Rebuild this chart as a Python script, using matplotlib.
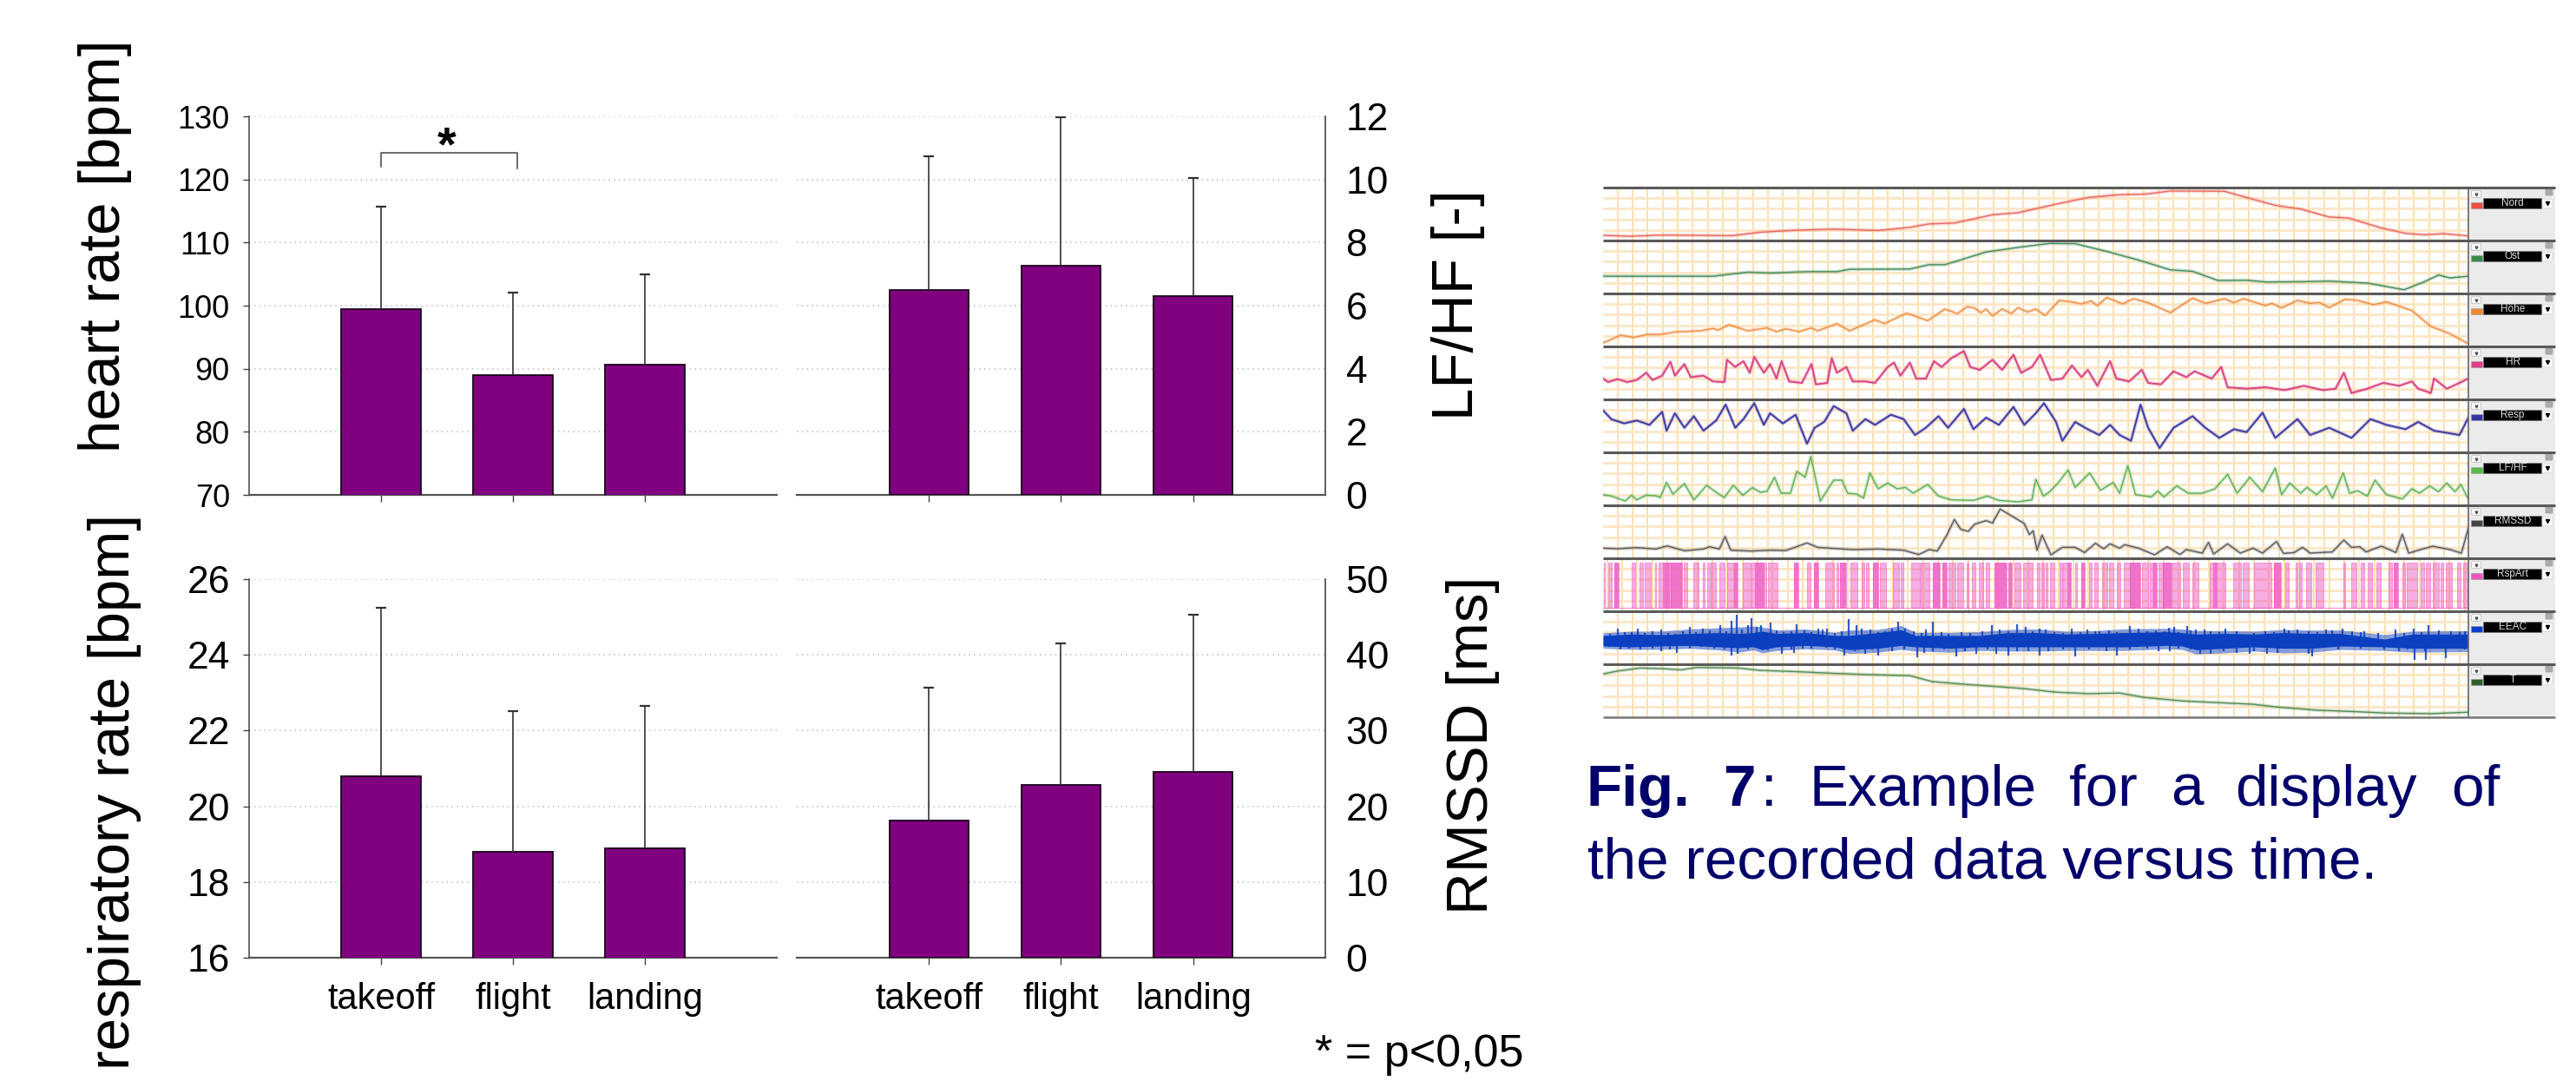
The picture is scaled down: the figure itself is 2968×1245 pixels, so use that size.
import numpy as np
import matplotlib
matplotlib.use("Agg")
import matplotlib.pyplot as plt
from matplotlib.patches import Rectangle, FancyBboxPatch

W = 2968
H = 1245
plt.rcParams['font.family'] = ['Liberation Sans', 'DejaVu Sans']

# bar charts
phases = ["takeoff", "flight", "landing"]
hr_mean = [99.5, 89.0, 90.6]
hr_top = [115.75, 102.0, 104.9]
lfhf_mean = [6.49, 7.26, 6.31]
lfhf_top = [10.74, 11.97, 10.05]
resp_mean = [20.79, 18.79, 18.88]
resp_top = [25.24, 22.52, 22.64]
rmssd_mean = [18.17, 22.87, 24.5]
rmssd_top = [35.66, 41.55, 45.3]
hr_ticks = [70, 80, 90, 100, 110, 120, 130]
lfhf_ticks = [0, 2, 4, 6, 8, 10, 12]
resp_ticks = [16, 18, 20, 22, 24, 26]
rmssd_ticks = [0, 10, 20, 30, 40, 50]

# recorded traces (time, level)
nord_t = [37,80,130,190,240,285,340,400,470,520,550,590,650,690,750,800,850,890,930,1015,1060,1095,1135,1180,1210,1260,1300,1330,1360,1399]
nord_y = [214,217,213,214,215,203,196,192,197,186,174,171,142,135,105,82,72,70,59,60,88,109,122,150,153,187,207,212,208,216]
ost_t = [37,120,210,265,300,360,405,425,520,550,575,640,690,740,780,830,880,930,965,1005,1050,1080,1140,1180,1240,1298,1330,1352,1370,1399]
ost_y = [356,356,356,342,345,340,340,332,331,316,316,272,256,242,243,270,300,334,339,371,370,376,375,373,380,403,375,352,362,356]
hoehe_t = [37,65,85,105,130,150,190,210,218,235,265,280,295,310,325,345,365,375,405,425,465,480,515,548,575,595,610,620,632,640,650,665,680,690,705,718,733,755,775,790,805,815,830,855,872,895,930,965,985,1015,1030,1045,1080,1090,1105,1130,1150,1165,1180,1205,1225,1250,1270,1290,1310,1340,1370,1399]
hoehe_y = [587,560,568,558,557,549,545,537,543,524,545,540,535,548,538,548,535,545,520,545,507,520,484,510,470,485,462,465,482,470,493,470,485,465,480,470,492,440,445,452,442,458,430,452,434,448,482,432,450,434,448,434,458,450,466,440,450,447,465,436,440,455,445,460,475,530,555,590]
hr_t = [37,45,60,75,90,105,115,130,143,150,165,175,195,210,228,232,245,258,268,275,290,300,310,318,330,350,365,372,390,397,405,420,430,450,465,485,495,505,520,530,545,558,570,585,605,615,630,650,665,683,695,712,725,742,760,775,790,800,815,835,845,865,885,895,915,935,955,968,995,1010,1020,1050,1080,1110,1140,1170,1190,1203,1215,1240,1265,1290,1310,1320,1340,1345,1365,1385,1399]
hr_y = [710,722,712,722,715,690,715,700,652,700,660,705,700,720,722,645,670,650,690,635,690,660,710,650,720,725,660,730,725,640,690,670,720,720,725,670,655,700,655,710,710,650,670,640,615,670,680,645,680,628,690,670,628,715,710,665,705,680,735,650,710,720,680,725,730,685,705,685,710,670,740,745,740,750,735,750,745,690,760,745,725,735,720,745,760,710,745,725,710]
rsp_t = [37,50,70,90,110,130,137,150,165,180,195,215,230,245,258,275,290,300,320,340,358,370,385,400,420,430,450,465,490,510,528,545,565,580,605,620,640,660,683,700,718,731,750,760,780,800,818,835,850,868,883,895,913,935,965,985,1007,1030,1050,1075,1095,1130,1150,1180,1215,1245,1270,1300,1320,1345,1385,1399]
rsp_y = [820,850,865,855,870,825,890,830,880,840,890,855,800,880,850,795,870,830,865,835,935,880,860,805,830,890,850,870,835,850,905,880,840,880,815,885,845,870,808,870,830,795,860,925,860,885,905,870,905,925,800,880,950,880,840,880,915,885,895,828,915,850,905,880,915,850,870,885,860,890,905,845]
lf_t = [37,50,72,82,90,105,120,127,137,147,165,180,200,215,228,242,257,272,285,295,307,317,332,342,355,364,379,400,413,422,436,447,457,470,485,500,513,525,548,565,585,620,642,660,690,712,718,730,740,755,769,780,803,820,840,850,863,875,900,910,920,940,958,980,1000,1020,1035,1055,1075,1095,1105,1118,1135,1145,1160,1175,1185,1202,1212,1225,1240,1252,1270,1295,1310,1322,1338,1352,1365,1378,1387,1399]
lf_y = [210,215,232,212,228,212,214,220,168,208,172,228,178,202,220,178,212,186,202,198,150,205,205,130,150,78,232,160,160,205,208,222,135,190,170,190,185,205,175,215,228,230,215,230,235,228,157,215,200,165,125,185,135,195,168,205,110,210,218,197,218,180,205,205,190,140,205,150,200,118,210,170,205,185,210,180,222,135,205,197,215,160,210,225,190,205,180,200,170,200,175,225]
rm_t = [37,60,90,120,138,165,195,205,220,229,238,270,300,325,358,375,400,430,470,510,534,550,563,578,590,600,612,622,640,650,662,685,700,708,714,720,728,742,760,780,795,812,825,835,850,858,880,905,925,945,955,980,990,998,1020,1040,1060,1075,1097,1108,1125,1138,1150,1185,1203,1215,1228,1238,1262,1285,1295,1305,1343,1370,1388,1399]
rm_y = [395,397,393,398,387,404,398,390,398,355,402,405,402,403,377,392,396,400,398,402,417,400,405,350,296,330,337,312,300,308,260,290,310,348,335,402,350,418,392,392,410,378,397,380,395,383,395,418,390,417,400,412,375,415,380,412,395,412,372,413,410,392,412,408,367,392,390,408,388,410,347,412,388,400,412,325]
temp_t = [37,60,95,130,160,185,250,285,340,400,450,520,555,600,650,700,750,800,850,890,950,1000,1060,1100,1160,1220,1270,1340,1399]
temp_y = [830,820,810,812,816,808,810,818,822,828,832,836,856,864,872,880,892,897,895,910,922,927,933,943,953,958,963,965,960]

# respiration artefact flag, on-intervals and the dense parts of them
art_start = [8,25,45,105,133,150,185,197,240,285,318,350,367,382,408,435,460,490,520,575,667,710,735,775,812,826,860,900,915,940,963,1008,1035,1070,1105,1147,1180,1200,1230,1262,1280,1305,1328,1360,1408,1428,1458,1505,1520,1535,1552,1585,1597,1637,1658,1685,1705,1730,1755,1782,1805,1828,1868,1895,1908,1925,1942,1975,2010,2042,2103,2185,2218,2255,2325,2365,2400,2412,2435,2470,2565,2592,2625,2648,2678,2722,2738,2770,2785,2832,2850,2875,2900,2918,2958,2980]
art_end = [12,35,60,118,143,170,190,240,280,297,335,358,377,395,425,455,472,515,570,610,682,722,750,803,820,846,885,908,923,958,985,1030,1045,1100,1135,1170,1195,1225,1252,1270,1292,1320,1342,1400,1420,1450,1490,1515,1530,1542,1565,1592,1622,1645,1672,1695,1716,1748,1770,1795,1826,1862,1890,1905,1920,1940,1970,2000,2030,2065,2158,2212,2238,2315,2350,2375,2405,2420,2455,2495,2572,2610,2638,2665,2695,2732,2755,2778,2820,2845,2865,2895,2910,2940,2970,2998]
dense_start = [45,212,240,460,530,667,735,826,940,1147,1180,1360,1408,1610,1658,1828,1908,1942,2115,2325,2738]
dense_end = [60,238,280,472,565,682,750,846,958,1170,1195,1400,1420,1622,1672,1862,1920,1970,2130,2350,2755]
art_low = 0.07
art_high = 0.92

# EEAC: solid core, fuzz around it and the spikes above and below
eeac_core_t = [0,100,200,300,400,470,520,550,600,700,800,850,950,1030,1080,1200,1300,1400,1500,1600,1700,1800,1950,2000,2050,2150,2250,2350,2450,2550,2700,2800,2991]
eeac_core_hi = [85,80,82,78,75,78,75,70,78,75,85,85,75,65,85,85,85,75,75,80,78,75,72,75,80,78,80,75,78,78,98,80,80]
eeac_core_lo = [122,125,122,120,125,128,125,135,125,120,125,135,130,120,125,130,125,125,125,125,125,125,120,122,135,130,125,130,130,122,125,130,130]
eeac_fuzz_hi = [76,70,70,62,58,55,52,55,66,62,74,66,64,50,74,74,72,64,62,70,68,62,60,62,68,68,70,64,66,66,82,70,68]
eeac_fuzz_lo = [130,134,134,130,136,144,136,146,138,132,136,148,144,134,140,144,138,140,140,138,138,138,132,134,150,146,140,146,144,134,138,144,142]
eeac_up_t = [50,120,200,300,345,405,445,463,500,512,545,578,670,745,775,850,875,1020,1075,1140,1345,1432,1460,1510,1620,1675,1715,1822,1955,1975,2018,2050,2150,2290,2355,2500,2555,2630,2740,2802,2852,2930,2980,
             25,75,100,145,170,225,250,275,320,370,385,425,480,530,600,625,650,695,720,760,800,825,895,925,950,975,1000,1045,1100,1115,1170,1195,1240,1270,1310,1370,1400,1485,
             1530,1560,1590,1650,1700,1750,1775,1800,1850,1880,1910,1940,1990,2030,2080,2100,2130,2190,2250,2320,2370,2400,2440,2470,2520,2590,2620,2680,2770,2830,2890,2960]
eeac_up = [60,60,65,55,60,50,35,12,50,25,50,40,45,60,60,28,50,38,70,38,50,45,55,60,60,65,70,52,58,55,52,65,60,70,60,65,60,70,65,60,48,70,70,
           80,72,72,75,70,75,78,70,72,68,75,70,65,55,68,72,70,68,72,65,75,70,62,65,72,70,60,60,75,65,72,78,72,75,70,65,70,70,
           65,72,75,72,70,68,72,75,62,70,68,70,72,68,65,70,72,70,75,72,68,65,70,72,68,70,72,75,75,72,68,72]
eeac_dn_t = [60,200,255,385,445,465,545,618,660,720,835,905,950,1085,1140,1220,1290,1360,1402,1470,1510,1632,1775,1958,2065,2145,2235,2295,2450,2750,2805,2845,2912,2980,
             20,90,130,170,230,300,340,420,500,570,650,690,770,800,870,930,1000,1040,1110,1180,1250,1330,1430,
             1540,1590,1680,1740,1820,1880,1920,1990,2030,2100,2190,2250,2330,2380,2440,2540,2620,2700,2780,2840,2920,2990]
eeac_dn = [135,140,145,130,155,150,135,150,145,130,155,150,155,162,140,160,150,150,155,140,155,160,155,140,150,140,150,150,160,140,170,170,165,135,
           125,130,135,130,135,130,125,135,135,138,135,130,128,135,140,135,140,135,145,135,140,135,140,
           140,135,135,140,135,130,140,130,135,148,145,140,145,130,148,135,130,135,135,140,130,132]

# strip scales as read, top and bottom level of each strip
strip_names = ["Nord", "Ost", "Höhe", "HR", "Resp", "LF/HF", "RMSSD", "RspArt", "EEAC", "T"]
strip_colors = ["#e8645a", "#3f8a55", "#f08a3c", "#d8407f", "#3a35a0", "#58b050", "#555555", "#ee5cc4", "#0b3fc0", "#4e8a4e"]
swatch_colors = ["#e8503f", "#3a8a4c", "#f08a30", "#e0408a", "#3535a5", "#58b84a", "#444444", "#ee55c0", "#0b40c8", "#2f5f28"]
strip_tops = [47, 232, 416, 599, 782, 64, 247, 0, 0, 797]
strip_bots = [232, 416, 599, 782, 965, 247, 430, 1, 186, 977]
strip_data = [(nord_t, nord_y), (ost_t, ost_y), (hoehe_t, hoehe_y), (hr_t, hr_y), (rsp_t, rsp_y),
              (lf_t, lf_y), (rm_t, rm_y), None, None, (temp_t, temp_y)]


def add_px_axes(x0, y0, x1, y1):
    return fig.add_axes([x0 / W, 1 - y1 / H, (x1 - x0) / W, (y1 - y0) / H])


def bar_panel(box, means, tops, ticks, side, size, labels=None):
    ax = add_px_axes(*box)
    xs = [1, 2, 3]
    ax.bar(xs, means, width=0.6, color="#800080", edgecolor="#1a001a", linewidth=1.3, zorder=3)
    yerr = [np.zeros(3), np.array(tops) - np.array(means)]
    eb = ax.errorbar(xs, means, yerr=yerr, fmt='none', ecolor="#333333", elinewidth=1.2, capsize=4.5, capthick=1.6, zorder=4)
    eb[1][0].set_visible(False)
    ax.set_xlim(0, 4)
    ax.set_ylim(ticks[0], ticks[-1])
    ax.set_yticks(ticks)
    ax.yaxis.grid(True, linestyle=(0, (1, 2.5)), color="#c6c6c6", linewidth=1.2)
    ax.set_axisbelow(True)
    ax.set_xticks(xs)
    ax.spines['top'].set_visible(False)
    ax.spines['bottom'].set_color("#555555")
    ax.spines['bottom'].set_linewidth(1.6)
    if side == "left":
        ax.spines['right'].set_visible(False)
        ax.spines['left'].set_color("#444444")
        ax.spines['left'].set_linewidth(1.1)
        ax.tick_params(axis='y', labelsize=size, length=5, width=1, color="#444444", pad=11)
    else:
        ax.spines['left'].set_visible(False)
        ax.spines['right'].set_color("#333333")
        ax.spines['right'].set_linewidth(1.1)
        ax.yaxis.tick_right()
        ax.tick_params(axis='y', labelsize=size, length=0, pad=17)
    ax.tick_params(axis='x', length=6, width=1, color="#444444", pad=14, labelsize=30)
    ax.set_xticklabels(labels if labels else [])
    return ax


fig = plt.figure(figsize=(W / 100, H / 100), dpi=100, facecolor="white")

ax_hr = bar_panel((287, 134, 895, 570), hr_mean, hr_top, hr_ticks, "left", 26)
bar_panel((918, 134, 1527, 570), lfhf_mean, lfhf_top, lfhf_ticks, "right", 32)
bar_panel((287, 667, 895, 1103), resp_mean, resp_top, resp_ticks, "left", 32, phases)
bar_panel((918, 667, 1527, 1103), rmssd_mean, rmssd_top, rmssd_ticks, "right", 32, phases)

# significance bracket between takeoff and flight
ax_hr.plot([1.0, 1.0, 2.03, 2.03], [122.0, 124.2, 124.2, 121.7], color="#444444", lw=1.1, zorder=5)
ax_hr.text(1.5, 125.0, "*", fontsize=40, fontweight='bold', ha='center', va='center', color="black")

fig.text(121 / W, 1 - 283 / H, "heart rate [bpm]", rotation=90, fontsize=48.5, ha='center', va='center')
fig.text(132 / W, 1 - 912 / H, "respiratory rate [bpm]", rotation=90, fontsize=48.5, ha='center', va='center')
fig.text(1680 / W, 1 - 351 / H, "LF/HF [-]", rotation=90, fontsize=48.5, ha='center', va='center')
fig.text(1697 / W, 1 - 858 / H, "RMSSD [ms]", rotation=90, fontsize=48.5, ha='center', va='center')
fig.text(1515 / W, 1 - 1228 / H, "* = p<0,05", fontsize=37.5, ha='left', va='baseline')

# screenshot of the recording
strip_y0 = 216
strip_h = 61
for i, name in enumerate(strip_names):
    ax = add_px_axes(1847, strip_y0 + i * strip_h, 2844, strip_y0 + (i + 1) * strip_h)
    ax.set_xlim(37, 1399)
    ax.set_ylim(strip_bots[i], strip_tops[i])
    ax.set_xticks(np.arange(60, 1399, 23.65))
    ax.set_yticks(np.linspace(strip_tops[i], strip_bots[i], 6)[1:-1])
    ax.grid(True, axis='x', color="#fddaa0", linewidth=1.2)
    ax.grid(True, axis='y', color="#fde6c4", linewidth=2)
    ax.set_axisbelow(True)
    ax.tick_params(length=0, labelbottom=False, labelleft=False)
    for s in ax.spines.values():
        s.set_visible(False)
    col = strip_colors[i]
    if name == "RspArt":
        ax.set_xlim(6, 2997)
        ax.set_ylim(0, 1)
        ax.set_xticks(np.arange(20, 2997, 52))
        ax.set_yticks([0.2, 0.4, 0.6, 0.8])
        ax.bar(art_start, art_high - art_low, np.array(art_end) - np.array(art_start), bottom=art_low, align='edge',
               facecolor=col, alpha=0.5, edgecolor=col, linewidth=0.8)
        ax.bar(dense_start, art_high - art_low, np.array(dense_end) - np.array(dense_start), bottom=art_low, align='edge',
               facecolor=col, alpha=0.7, linewidth=0)
        ax.axhline(art_low, color=col, lw=1, alpha=0.6)
    elif name == "EEAC":
        ax.set_xlim(0, 2991)
        ax.set_xticks(np.arange(50, 2991, 52))
        ax.fill_between(eeac_core_t, eeac_fuzz_lo, eeac_fuzz_hi, color=col, alpha=0.5, linewidth=0)
        ax.vlines(eeac_up_t, 100, eeac_up, color=col, lw=1.6, alpha=0.85)
        ax.vlines(eeac_dn_t, 100, eeac_dn, color=col, lw=1.6, alpha=0.85)
        ax.fill_between(eeac_core_t, eeac_core_lo, eeac_core_hi, color=col, linewidth=0)
    else:
        t, y = strip_data[i]
        lw = 1.4 if name in ("HR", "Resp") else 1.0
        ax.plot(t, y, color=col, lw=3, alpha=0.25)
        ax.plot(t, y, color=col, lw=lw, alpha=0.95)

# label column and strip dividers on top, in image pixels
over = fig.add_axes([0, 0, 1, 1], zorder=10)
over.set_xlim(0, W)
over.set_ylim(H, 0)
over.axis('off')
over.patch.set_visible(False)
over.add_patch(Rectangle((2844, 216), 100, 610, facecolor="#ebebeb", edgecolor="none"))
over.plot([2844, 2844], [216, 826], color="#666666", lw=1.2)
for i, name in enumerate(strip_names):
    y = strip_y0 + i * strip_h
    over.plot([1847, 2944], [y, y], color="#5a5a5a", lw=2.2, solid_capstyle='butt')
    over.add_patch(Rectangle((2847, y + 17), 13, 7, facecolor=swatch_colors[i], edgecolor="#999999", lw=0.4))
    over.add_patch(Rectangle((2861, y + 12), 67, 12, facecolor="black", edgecolor="#777777", lw=0.4))
    over.text(2895, y + 18, name, color="#dddddd", fontsize=8.5, ha='center', va='center')
    over.add_patch(FancyBboxPatch((2849, y + 5), 8, 5, boxstyle="round,pad=1.5", facecolor="#f6f6f6", edgecolor="#bbbbbb", lw=0.5))
    over.add_patch(Rectangle((2929, y + 13), 11, 10, facecolor="white", edgecolor="#cccccc", lw=0.4))
    over.plot([2934.5], [y + 18], marker='v', ms=3, color="black")
    over.plot([2853], [y + 8], marker='v', ms=2, color="#555555")
    over.add_patch(FancyBboxPatch((2934, y + 3), 6, 5, boxstyle="round,pad=1.5", facecolor="#aaaaaa", edgecolor="none"))
over.plot([1847, 2944], [826, 826], color="#777777", lw=1.8, solid_capstyle='butt')

# caption, first line is justified
navy = "#00006b"
fs = 48.5
base1 = 928
base2 = 1012
over.text(1828, base1, "Fig.", color=navy, fontsize=fs, fontweight='bold', va='baseline')
over.text(1985, base1, "7", color=navy, fontsize=fs, fontweight='bold', va='baseline')
for word, x in zip([":", "Example", "for", "a", "display", "of"], [2029, 2084, 2384, 2501, 2575, 2824]):
    over.text(x, base1, word, color=navy, fontsize=fs, va='baseline')
over.text(1829, base2, "the recorded data versus time.", color=navy, fontsize=fs, va='baseline')

fig.savefig("out.png", dpi=100, facecolor="white")
